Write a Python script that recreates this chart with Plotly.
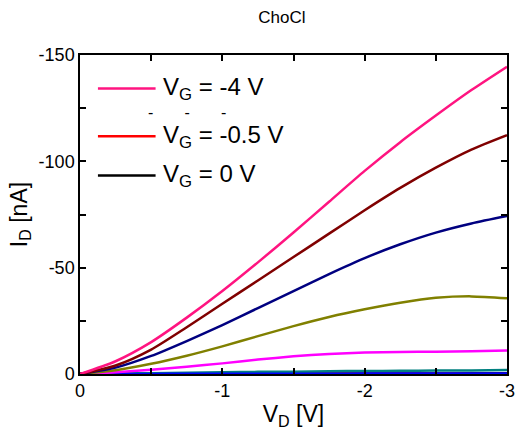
import plotly.graph_objects as go

# ---- data ----
vd = [0, -0.25, -0.5, -0.75, -1.0, -1.25, -1.5, -1.75, -2.0, -2.25, -2.5, -2.75, -3.0]

curves = {
    "pink":    [0, -6.0, -15.0, -26.5, -39.0, -52.5, -66.5, -81.0, -95.5, -109.0, -121.5, -133.5, -144.5],
    "maroon":  [0, -4.0, -11.5, -22.0, -33.0, -44.0, -55.0, -66.0, -77.0, -87.5, -97.0, -105.5, -112.3],
    "navy":    [0, -3.0, -8.5, -15.5, -23.0, -31.0, -39.0, -47.0, -54.5, -61.0, -66.5, -70.8, -74.3],
    "olive":   [0, -1.8, -4.8, -8.6, -13.0, -17.8, -22.5, -26.8, -30.4, -33.5, -35.8, -36.5, -35.6],
    "magenta": [0, -0.8, -2.0, -3.4, -5.0, -6.8, -8.3, -9.4, -10.1, -10.4, -10.5, -10.7, -11.0],
    "teal":    [0, -0.2, -0.4, -0.6, -0.8, -1.0, -1.1, -1.3, -1.4, -1.5, -1.6, -1.7, -1.9],
    "red":     [0, -0.05, -0.1, -0.1, -0.15, -0.15, -0.2, -0.2, -0.2, -0.25, -0.25, -0.25, -0.3],
    "black":   [0, -0.03, -0.05, -0.08, -0.1, -0.1, -0.12, -0.12, -0.15, -0.15, -0.15, -0.18, -0.2],
    "blue":    [0, -0.03, -0.05, -0.08, -0.1, -0.12, -0.14, -0.16, -0.18, -0.2, -0.22, -0.24, -0.26],
}
colors = {
    "pink": "#FF1480", "maroon": "#800000", "navy": "#000080", "olive": "#808000",
    "magenta": "#FF00FF", "teal": "#008080", "red": "#FF0000", "black": "#000000",
    "blue": "#0000FF",
}
draw_order = ["red", "black", "teal", "blue", "magenta", "olive", "navy", "maroon", "pink"]

legend_labels = ["V<sub>G</sub> = -4 V", "V<sub>G</sub> = -0.5 V", "V<sub>G</sub> = 0 V"]
legend_keys = ["pink", "red", "black"]

x_ticks = [0, -1, -2, -3]
y_ticks = [0, -50, -100, -150]

FONT = "Arial, Liberation Sans, sans-serif"

fig = go.Figure()
for k in draw_order:
    fig.add_trace(go.Scatter(
        x=vd, y=curves[k], mode="lines",
        line=dict(color=colors[k], width=2.5, shape="spline", smoothing=0.7),
        showlegend=False, hoverinfo="skip",
    ))

# manual legend (paper coordinates inside plot area)
leg_y = [0.895, 0.745, 0.622]
for lab, key, yy in zip(legend_labels, legend_keys, leg_y):
    fig.add_shape(type="line", xref="paper", yref="paper",
                  x0=0.042, x1=0.177, y0=yy, y1=yy,
                  line=dict(color=colors[key], width=2.5))
    fig.add_annotation(xref="paper", yref="paper", x=0.19, y=yy, text=lab,
                       showarrow=False, xanchor="left", yanchor="middle",
                       font=dict(family=FONT, size=24, color="black"))
fig.add_annotation(xref="paper", yref="paper", x=0.155, y=0.82,
                   text="-&#160;&#160;&#160;&#160;&#160;&#160;&#160;-&#160;&#160;&#160;&#160;&#160;&#160;&#160;-",
                   showarrow=False, xanchor="left", yanchor="middle",
                   font=dict(family=FONT, size=16, color="black"))

axis_common = dict(
    showline=True, linecolor="black", linewidth=1.5, mirror="ticks",
    ticks="inside", ticklen=6, tickwidth=1.5, tickcolor="black",
    showgrid=False, zeroline=False,
    tickfont=dict(family=FONT, size=18, color="black"),
)

fig.update_layout(
    width=523, height=434,
    margin=dict(l=80, r=8, t=55, b=60),
    paper_bgcolor="white", plot_bgcolor="white",
    title=dict(text="ChoCl", x=0.539, xref="container", y=0.96, yref="container",
               xanchor="center", yanchor="middle",
               font=dict(family=FONT, size=17, color="black")),
    xaxis=dict(range=[0, -3], tickvals=x_ticks, ticktext=[str(v) for v in x_ticks],
               minor=dict(dtick=0.5, tick0=0, ticks="inside", ticklen=6, tickwidth=1.5, tickcolor="black"),
               title=dict(text="V<sub>D</sub> [V]", standoff=6,
                          font=dict(family=FONT, size=23, color="black")),
               **axis_common),
    yaxis=dict(range=[0, -150], tickvals=y_ticks, ticktext=[str(v) for v in y_ticks],
               minor=dict(dtick=25, tick0=0, ticks="inside", ticklen=6, tickwidth=1.5, tickcolor="black"),
               title=dict(text="I<sub>D</sub> [nA]", standoff=5,
                          font=dict(family=FONT, size=23, color="black")),
               **axis_common),
)

fig.write_html("out.html")
